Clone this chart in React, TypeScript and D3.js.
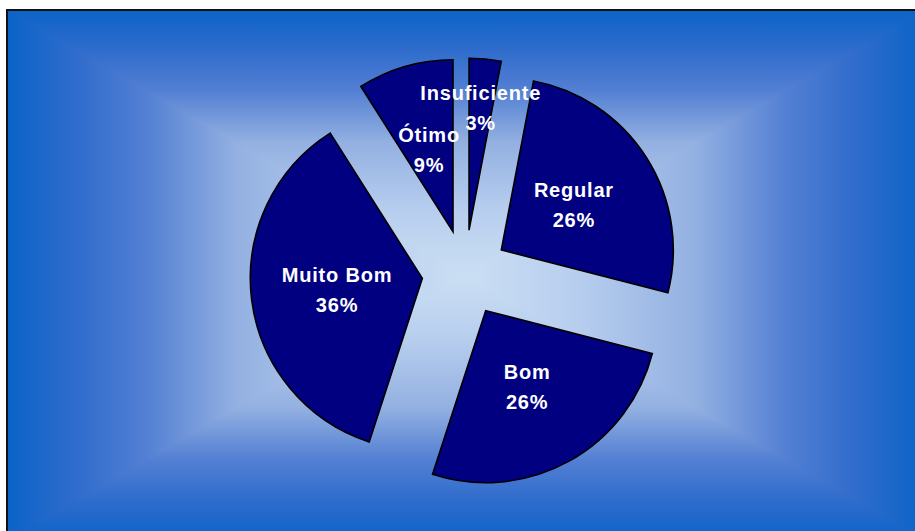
import * as d3 from "d3";

const categories = ["Insuficiente", "Regular", "Bom", "Muito Bom", "Ótimo"];
const values = [3, 26, 26, 36, 9];
const percentLabels = ["3%", "26%", "26%", "36%", "9%"];

const W = 915;
const H = 531;

// background ramp, from the chart area's edge (0) to its centre (1)
const rampStops = [
  [0, "#0b63c8"],
  [0.15, "#2f6ccc"],
  [0.3, "#527fd3"],
  [0.5, "#93b0e1"],
  [0.75, "#b6cdee"],
  [1, "#cbdff3"],
];

const App = () => {
  // chart area (it runs past the right and bottom edges of the picture)
  const area = { x: 7, y: 10, w: 918, h: 530 };
  const cx = area.x + area.w / 2;
  const cy = area.y + area.h / 2;

  const pieCx = 465;
  const pieCy = 273;
  const R = 172;
  const explode = 43;

  const pie = d3
    .pie<number>()
    .sort(null)
    .value((d) => d)
    .startAngle(0)
    .endAngle(2 * Math.PI);
  const arcs = pie(values);
  const arc = d3.arc<d3.PieArcDatum<number>>().innerRadius(0).outerRadius(R);

  const x0 = area.x;
  const y0 = area.y;
  const x1 = area.x + area.w;
  const y1 = area.y + area.h;
  const grads = [
    { id: "gt", from: [cx, y0] },
    { id: "gr", from: [x1, cy] },
    { id: "gb", from: [cx, y1] },
    { id: "gl", from: [x0, cy] },
  ];

  const placed = arcs.map((a, i) => {
    const mid = (a.startAngle + a.endAngle) / 2;
    const dx = explode * Math.sin(mid);
    const dy = -explode * Math.cos(mid);
    const share = (a.endAngle - a.startAngle) / (2 * Math.PI);
    const lr = share < 0.05 ? R * 0.72 : R * 0.5;
    return {
      a,
      name: categories[i],
      pct: percentLabels[i],
      dx,
      dy,
      lx: dx + lr * Math.sin(mid),
      ly: dy - lr * Math.cos(mid),
    };
  });

  return (
    <svg
      width={W}
      height={H}
      viewBox={`0 0 ${W} ${H}`}
      style={{ position: "absolute", left: 0, top: 0, display: "block" }}
    >
      <defs>
        {grads.map((g) => (
          <linearGradient
            key={g.id}
            id={g.id}
            gradientUnits="userSpaceOnUse"
            x1={g.from[0]}
            y1={g.from[1]}
            x2={cx}
            y2={cy}
          >
            {rampStops.map((s) => (
              <stop key={s[0]} offset={s[0]} stopColor={s[1] as string} />
            ))}
          </linearGradient>
        ))}
      </defs>
      <rect x={0} y={0} width={W} height={H} fill="white" />
      {/* left / right halves first, then the top and bottom wedges over them */}
      <rect x={x0} y={y0} width={cx - x0 + 1} height={y1 - y0} fill="url(#gl)" />
      <rect x={cx} y={y0} width={x1 - cx} height={y1 - y0} fill="url(#gr)" />
      <polygon points={`${x0},${y0} ${x1},${y0} ${cx},${cy}`} fill="url(#gt)" />
      <polygon points={`${x1},${y1} ${x0},${y1} ${cx},${cy}`} fill="url(#gb)" />
      <rect
        x={area.x}
        y={area.y}
        width={area.w + 10}
        height={area.h + 10}
        fill="none"
        stroke="#111"
        strokeWidth={2}
      />
      <g transform={`translate(${pieCx},${pieCy})`}>
        {placed.map((p) => (
          <path
            key={p.name}
            transform={`translate(${p.dx},${p.dy})`}
            d={arc(p.a) || ""}
            fill="#000080"
            stroke="#000"
            strokeWidth={1.6}
          />
        ))}
        {placed.map((p) => (
          <text
            key={p.name}
            textAnchor="middle"
            fill="white"
            fontFamily="'Liberation Sans', Arial, sans-serif"
            fontWeight="bold"
            fontSize={20}
            letterSpacing={0.8}
          >
            <tspan x={p.lx} y={p.ly - 7}>
              {p.name}
            </tspan>
            <tspan x={p.lx} y={p.ly + 23}>
              {p.pct}
            </tspan>
          </text>
        ))}
      </g>
    </svg>
  );
};

export default App;
